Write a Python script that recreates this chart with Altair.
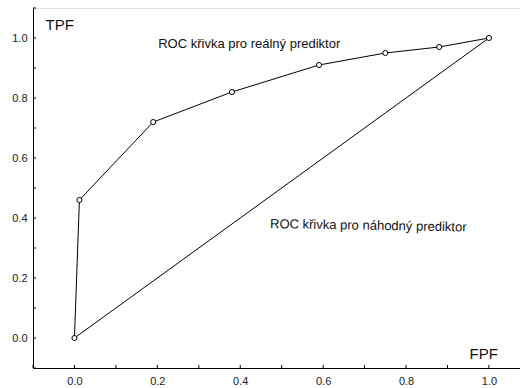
import altair as alt
import pandas as pd

# ROC curve of the real predictor
fpf = [0.0, 0.012, 0.19, 0.38, 0.59, 0.75, 0.88, 1.0]
tpf = [0.0, 0.46, 0.72, 0.82, 0.91, 0.95, 0.97, 1.0]
# random predictor diagonal
diag_x = [0.0, 1.0]
diag_y = [0.0, 1.0]
# tick positions / labels
x_labels = [0.0, 0.2, 0.4, 0.6, 0.8, 1.0]
y_labels = [0.0, 0.2, 0.4, 0.6, 0.8, 1.0]
x_minor = [-0.1, 0.0, 0.1, 0.2, 0.3, 0.4, 0.5, 0.6, 0.7, 0.8, 0.9, 1.0]
y_minor = [-0.1, 0.0, 0.1, 0.2, 0.3, 0.4, 0.5, 0.6, 0.7, 0.8, 0.9, 1.0, 1.1]
texts = ["ROC křivka pro reálný prediktor", "ROC křivka pro náhodný prediktor"]
text_x = [0.202, 0.472]
text_y = [0.98, 0.38]

W, H = 487, 360
FONT = "Liberation Sans"

roc = pd.DataFrame({"x": fpf, "y": tpf, "o": list(range(len(fpf)))})
diag = pd.DataFrame({"x": diag_x, "y": diag_y})

xs = alt.Scale(domain=[-0.1, 1.075], nice=False, zero=False)
ys = alt.Scale(domain=[-0.1, 1.1], nice=False, zero=False)

x_axis = alt.Axis(values=x_labels, format=".1f", grid=False, ticks=False,
                  domainColor="black", domainWidth=1, labelFont=FONT, labelFontSize=11,
                  labelColor="#222", labelPadding=7, title="FPF", titleFont=FONT,
                  titleFontSize=15, titleFontWeight="normal", titleColor="#111",
                  titleX=436, titleY=-15, titleAlign="left", titleBaseline="middle",
                  titleAngle=0)
y_axis = alt.Axis(values=y_labels, format=".1f", grid=False, ticks=False,
                  domainColor="black", domainWidth=1, labelFont=FONT, labelFontSize=11,
                  labelColor="#222", labelPadding=6, title="TPF", titleFont=FONT,
                  titleFontSize=15, titleFontWeight="normal", titleColor="#111",
                  titleX=12, titleY=16, titleAlign="left", titleBaseline="middle",
                  titleAngle=0)

base_line = alt.Chart(roc).mark_line(color="black", strokeWidth=1).encode(
    x=alt.X("x:Q", scale=xs, axis=x_axis),
    y=alt.Y("y:Q", scale=ys, axis=y_axis),
    order="o:Q",
)

diag_line = alt.Chart(diag).mark_line(color="black", strokeWidth=1).encode(
    x=alt.X("x:Q", scale=xs), y=alt.Y("y:Q", scale=ys)
)

pts = alt.Chart(roc).mark_point(shape="circle", size=26, filled=False, fill="white",
                                 stroke="black", strokeWidth=1, opacity=1).encode(
    x=alt.X("x:Q", scale=xs), y=alt.Y("y:Q", scale=ys)
)

tdf = pd.DataFrame({"x": text_x, "y": text_y, "t": texts, "a": [0, 1]})
txt1 = alt.Chart(tdf.iloc[[0]]).mark_text(align="left", baseline="middle", font=FONT,
                                           fontSize=13, color="#111").encode(
    x=alt.X("x:Q", scale=xs), y=alt.Y("y:Q", scale=ys), text="t:N"
)
txt2 = alt.Chart(tdf.iloc[[1]]).mark_text(align="left", baseline="middle", font=FONT,
                                           fontSize=13, color="#111", angle=1).encode(
    x=alt.X("x:Q", scale=xs), y=alt.Y("y:Q", scale=ys), text="t:N"
)

xt = alt.Chart(pd.DataFrame({"x": x_minor})).mark_rule(color="black", strokeWidth=1).encode(
    x=alt.X("x:Q", scale=xs), y=alt.value(H), y2=alt.value(H - 3)
)
yt = alt.Chart(pd.DataFrame({"y": y_minor})).mark_rule(color="black", strokeWidth=1).encode(
    y=alt.Y("y:Q", scale=ys), x=alt.value(0), x2=alt.value(3)
)

chart = alt.layer(base_line, diag_line, xt, yt, pts, txt1, txt2).properties(
    width=W, height=H,
    autosize=alt.AutoSizeParams(type="none"),
    padding={"left": 33, "top": 8, "right": 0, "bottom": 20},
).configure_view(stroke=None).configure(background="white")

chart.save("out.html", embed_options={"renderer": "svg", "actions": False})
